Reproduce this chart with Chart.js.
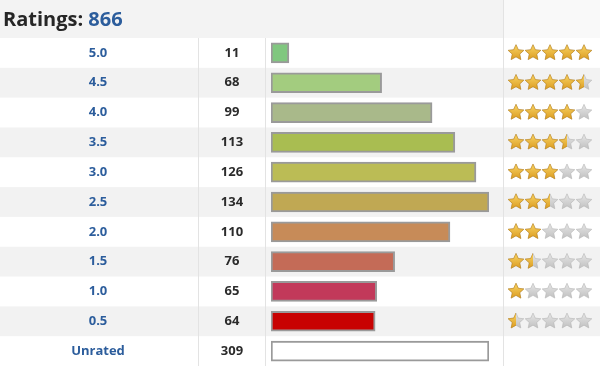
<!DOCTYPE html>
<html>
<head>
<meta charset="utf-8">
<script src="https://cdn.jsdelivr.net/npm/chart.js@4/dist/chart.umd.min.js"></script>
<style>
  html, body { margin: 0; padding: 0; background: #ffffff; }
  #wrap { position: relative; width: 600px; height: 366px; }
</style>
</head>
<body>
<div id="wrap"><canvas id="c" width="600" height="366"></canvas></div>
<script>
// ---- Data ----
const titleText = 'Ratings:';
const totalRatings = 866;
const ratingLabels = ['5.0', '4.5', '4.0', '3.5', '3.0', '2.5', '2.0', '1.5', '1.0', '0.5', 'Unrated'];
const ratingCounts = [11, 68, 99, 113, 126, 134, 110, 76, 65, 64, 309];
const starValues = [5, 4.5, 4, 3.5, 3, 2.5, 2, 1.5, 1, 0.5, 0];
const barColors = ['#80c77f', '#a3cc7f', '#a9b98a', '#a9bd51', '#bbbc55', '#c0a853',
                   '#c78b58', '#c46b57', '#c2395a', '#c80202', '#ffffff'];

// scale tops out at the largest rated count; the unrated bar fills the column
const ratedMax = Math.max(...ratingCounts.slice(0, ratingCounts.length - 1));
const barValues = ratingCounts.map(v => Math.min(v, ratedMax));

const HEADER_H = 38;
const COL1 = 198, COL2 = 265, COL3 = 503;
const FONT = '"Open Sans", Lato, sans-serif';

function starPath(ctx, cx, cy, ro, ri) {
  ctx.beginPath();
  for (let k = 0; k < 10; k++) {
    const r = k % 2 === 0 ? ro : ri;
    const a = -Math.PI / 2 + k * Math.PI / 5;
    const x = cx + r * Math.cos(a), y = cy + r * Math.sin(a);
    if (k === 0) ctx.moveTo(x, y); else ctx.lineTo(x, y);
  }
  ctx.closePath();
}

function drawStar(ctx, cx, cy, fillFrac) {
  const ro = 8.2, ri = 3.9;
  const gold = ctx.createLinearGradient(0, cy - ro, 0, cy + ro);
  gold.addColorStop(0, '#f9d565');
  gold.addColorStop(1, '#d8961a');
  const grey = ctx.createLinearGradient(0, cy - ro, 0, cy + ro);
  grey.addColorStop(0, '#e6e6e6');
  grey.addColorStop(1, '#bdbdbd');
  // grey base
  starPath(ctx, cx, cy, ro, ri);
  ctx.fillStyle = grey; ctx.fill();
  ctx.strokeStyle = '#b5b5b5'; ctx.lineWidth = 0.6; ctx.stroke();
  if (fillFrac > 0) {
    ctx.save();
    ctx.beginPath();
    ctx.rect(cx - ro - 1, cy - ro - 1, (2 * ro + 2) * (fillFrac >= 1 ? 1 : 0.5), 2 * ro + 2);
    ctx.clip();
    starPath(ctx, cx, cy, ro, ri);
    ctx.fillStyle = gold; ctx.fill();
    ctx.strokeStyle = '#c28716'; ctx.lineWidth = 0.6; ctx.stroke();
    ctx.restore();
  }
}

const tablePlugin = {
  id: 'tablePlugin',
  beforeDatasetsDraw(chart) {
    const ctx = chart.ctx;
    const y = chart.scales.y;
    const W = chart.width, H = chart.height;
    const n = ratingLabels.length;
    const band = (chart.chartArea.bottom - chart.chartArea.top) / n;
    ctx.save();
    ctx.fillStyle = '#ffffff';
    ctx.fillRect(0, 0, W, H);
    // header
    ctx.fillStyle = '#f3f3f3';
    ctx.fillRect(0, 0, COL3, HEADER_H);
    ctx.fillStyle = '#f9f9f9';
    ctx.fillRect(COL3, 0, W - COL3, HEADER_H);
    // rows
    for (let i = 0; i < n; i++) {
      const cy = y.getPixelForValue(i);
      if (i % 2 === 1) {
        ctx.fillStyle = '#f2f2f2';
        ctx.fillRect(0, cy - band / 2, W, band);
      }
    }
    // column lines
    ctx.strokeStyle = '#e3e3e3';
    ctx.lineWidth = 1;
    [COL1, COL2].forEach(x => {
      ctx.beginPath(); ctx.moveTo(x + 0.5, HEADER_H); ctx.lineTo(x + 0.5, H); ctx.stroke();
    });
    ctx.beginPath(); ctx.moveTo(COL3 + 0.5, 0); ctx.lineTo(COL3 + 0.5, H); ctx.stroke();
    // header text
    ctx.textBaseline = 'middle';
    ctx.textAlign = 'left';
    ctx.font = 'bold 20px ' + FONT;
    ctx.fillStyle = '#262626';
    ctx.fillText(titleText, 3, 20);
    const tw = ctx.measureText(titleText + ' ').width;
    ctx.fillStyle = '#2c5d9c';
    ctx.fillText(String(totalRatings), 3 + tw, 20);
    // row texts
    ctx.textAlign = 'center';
    ctx.font = 'bold 13px ' + FONT;
    for (let i = 0; i < n; i++) {
      const cy = y.getPixelForValue(i);
      ctx.fillStyle = '#2c5d9c';
      ctx.fillText(ratingLabels[i], 98, cy);
      ctx.fillStyle = '#2b2b2b';
      ctx.fillText(String(ratingCounts[i]), 232, cy);
    }
    ctx.restore();
  },
  afterDatasetsDraw(chart) {
    const ctx = chart.ctx;
    const y = chart.scales.y;
    ctx.save();
    for (let i = 0; i < starValues.length; i++) {
      const v = starValues[i];
      if (!v) continue;
      const cy = y.getPixelForValue(i);
      for (let s = 0; s < 5; s++) {
        const frac = Math.max(0, Math.min(1, v - s));
        drawStar(ctx, 516 + s * 17, cy, frac);
      }
    }
    ctx.restore();
  }
};

new Chart(document.getElementById('c'), {
  type: 'bar',
  data: {
    labels: ratingLabels,
    datasets: [{
      data: barValues,
      backgroundColor: barColors,
      borderColor: '#9a9a9a',
      borderWidth: 2,
      borderSkipped: false,
      barThickness: 20
    }]
  },
  options: {
    indexAxis: 'y',
    responsive: false,
    animation: false,
    events: [],
    layout: { padding: { top: HEADER_H, left: 271, right: 111, bottom: 0 } },
    plugins: { legend: { display: false }, tooltip: { enabled: false } },
    scales: {
      x: { display: false, min: 0, max: ratedMax },
      y: { display: false }
    }
  },
  plugins: [tablePlugin]
});
</script>
</body>
</html>
